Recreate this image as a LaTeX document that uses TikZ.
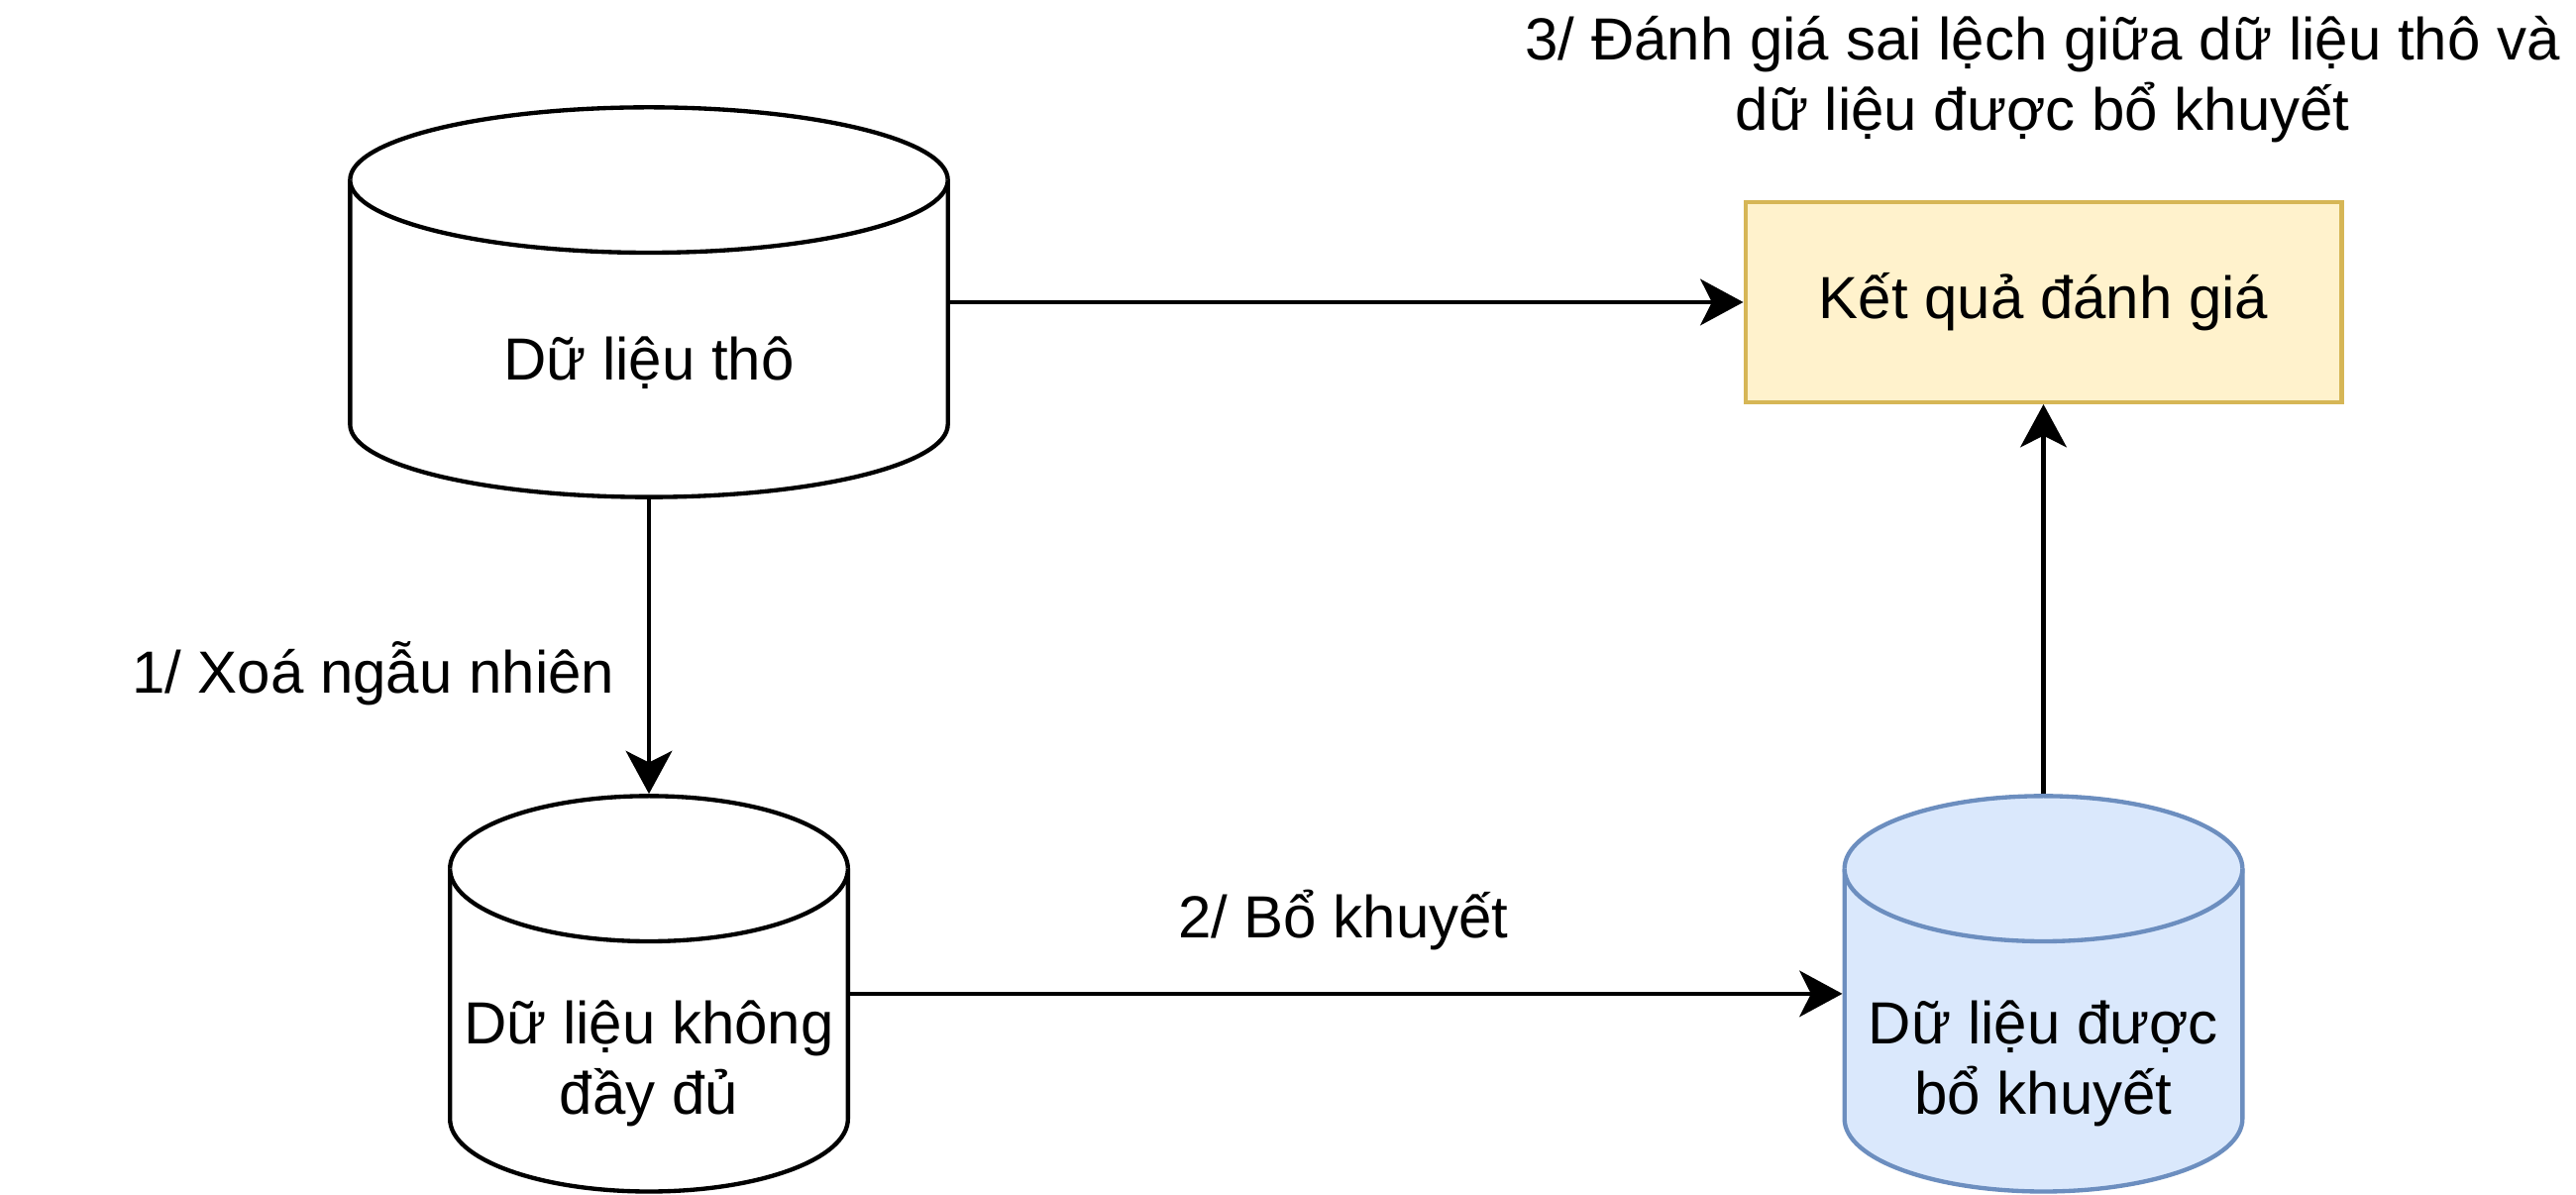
\documentclass[tikz,border=0pt]{standalone}
\usepackage{fontspec}
\setmainfont{Liberation Sans}
\usetikzlibrary{arrows.meta}

\definecolor{blueFill}{HTML}{DAE8FC}
\definecolor{blueLine}{HTML}{6C8EBF}
\definecolor{goldFill}{HTML}{FFF2CC}
\definecolor{goldLine}{HTML}{D6B656}

% cylinder outline: centre x, top y, bottom y, half width, style
\newcommand{\drum}[5]{%
  \draw[#5] (#1-#4,#2-44) -- (#1-#4,#3+44)
    arc[start angle=180, end angle=360, x radius=#4, y radius=44]
    -- (#1+#4,#2-44)
    arc[start angle=0, end angle=180, x radius=#4, y radius=44] -- cycle;
  \draw[#5] (#1-#4,#2-44) arc[start angle=180, end angle=360, x radius=#4, y radius=44];}

\begin{document}
\begin{tikzpicture}[x=1pt, y=1pt, line width=2.6pt,
        every node/.style={font=\fontsize{36}{43}\selectfont, align=center, inner sep=0pt},
        flow/.style={-{Stealth[length=26pt, width=28pt, inset=7pt]}}]
        \useasboundingbox (0,0) rectangle (1560,723);
        \drum{393}{658}{422}{181}{black, fill=white}
        \node [minimum width=362pt, minimum height=236pt] (raw) at (393,540) {};
        \node (rawtext) at (393,503) {Dữ liệu thô};
        \drum{393}{241}{1.5}{120.5}{black, fill=white}
        \node [minimum width=241pt, minimum height=239.5pt] (incomplete) at (393,121.25) {};
        \node (incompletetext) at (393,79) {Dữ liệu không\\đầy đủ};
        \drum{1237.5}{241}{1.5}{120.5}{blueLine, fill=blueFill}
        \node [minimum width=241pt, minimum height=239.5pt] (imputed) at (1237.5,121.25) {};
        \node (imputedtext) at (1237.5,79) {Dữ liệu được\\bổ khuyết};
        \node [draw=goldLine, fill=goldFill, minimum width=361pt, minimum height=121pt] (result) at (1237.5,540) {Kết quả đánh giá};
        \draw [flow] (raw.south) -- (incomplete.north);
        \node (droplabel) at (226,315) {1/ Xoá ngẫu nhiên};
        \draw [flow] (incomplete.east) -- (imputed.west);
        \node (filllabel) at (813.5,166) {2/ Bổ khuyết};
        \draw [flow] (raw.east) -- (result.west);
        \draw [flow] (imputed.north) -- (result.south);
        \node (evaltext) at (1237,675) {3/ Đánh giá sai lệch giữa dữ liệu thô và\\dữ liệu được bổ khuyết};
\end{tikzpicture}
\end{document}
